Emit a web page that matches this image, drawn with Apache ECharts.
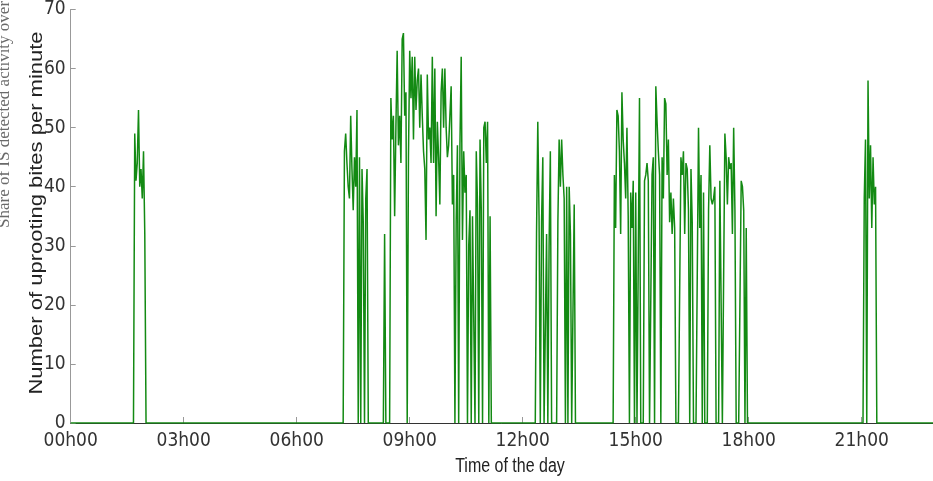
<!DOCTYPE html>
<html>
<head>
<meta charset="utf-8">
<script src="https://cdn.jsdelivr.net/npm/echarts@6/dist/echarts.min.js"></script>
<style>
html,body{margin:0;padding:0;background:#fff;}
#chart{width:933px;height:481px;}
</style>
</head>
<body>
<div id="chart"></div>
<script>
// Time axis in minutes after midnight; bursts sampled every 2 minutes.
const tickLabels = ['00h00','03h00','06h00','09h00','12h00','15h00','18h00','21h00'];
const xTitle = 'Time of the day';
const yTitle = 'Number of uprooting bites per minute';
const sideTitle = 'Share of IS detected activity over';

const stepMinutes = 2;
const nightStart = 100;
const nightBites = [0,49,41,44,53,40,43,38,46,32,0];
const earlyStart = 434;
const earlyBites = [0,46,49,44,40,38,52,43,36,45,40,53,0,45,0,43,34,0,38,43,0];
const lateStart = 498;
const lateBites = [0,32,0];
const morningStart = 508;
const morningBites = [0,
  55,48,52,35,50,63,47,52,44,65,
  66,52,56,0,45,63,55,62,48,62,
  53,58,60,50,59,52,46,43,31,59,
  48,50,44,62,44,60,35,51,45,37,
  56,60,50,60,50,45,47,52,57,37,
  42,0,34,47,0,47,62,31,46,39,
  42,0,30,36,0,35,35,0,46,37,
  0,48,36,0,50,51,44,51,0,35,
  0];
const noonStart = 740;
const noonBites = [0,32,51,35,0,34,45,0,0,32,0,30,46,0,0,0,0,0,34,48,40,48,42,38,0,40,0,40,32,0,0,37,0];
const afternoonStart = 864;
const afternoonBites = [
  0,42,33,53,52,46,32,56,48,44,
  38,50,35,0,39,33,41,0,39,0,
  0,55,0,0,0,41,42,44,41,0,
  0,42,45,0,57,51,46,42,0,45,
  38,55,54,42,48,34,39,32,38,33,
  0,0,0,0,45,42,46,32,44,43,
  36,0,43,34,0,0,0,0,50,33,
  42,0,39,0,0,0,36,47,38,37,
  38,40,0,0,0,41,41,0,0,49,
  45,37,45,43,44,32,50,36,0,0,
  0,0,41,40,36,0,33,0];
const eveningStart = 1262;
const eveningBites = [0,38,48,0,58,38,47,33,45,37,40,0];

const bursts = [
  [nightStart, nightBites], [earlyStart, earlyBites], [lateStart, lateBites],
  [morningStart, morningBites], [noonStart, noonBites], [afternoonStart, afternoonBites],
  [eveningStart, eveningBites]
];
const seriesData = [[0, 0]];
bursts.forEach(([start, vals]) => {
  vals.forEach((v, i) => seriesData.push([start + i * stepMinutes, v]));
});
seriesData.push([1440, 0]);

const labelFont = "'Liberation Sans Narrow', 'DejaVu Sans Condensed', 'Liberation Sans', sans-serif";

const chart = echarts.init(document.getElementById('chart'), null, {renderer: 'canvas'});
chart.setOption({
  animation: false,
  backgroundColor: '#ffffff',
  grid: {left: 70.7, right: 0, top: 3, bottom: 58, containLabel: false},
  xAxis: {
    type: 'value', min: 0, max: 1373.5, interval: 180,
    axisLine: {show: true, lineStyle: {color: '#333', width: 1}},
    axisTick: {show: true, inside: true, length: 6, lineStyle: {color: '#999'}},
    axisLabel: {
      color: '#333', fontSize: 19, fontFamily: labelFont, margin: 9,
      showMaxLabel: false,
      formatter: v => (v % 180 === 0 && v / 180 < tickLabels.length) ? tickLabels[v / 180] : ''
    },
    splitLine: {show: false}
  },
  yAxis: {
    type: 'value', min: 0, max: 70, interval: 10,
    axisLine: {show: true, lineStyle: {color: '#999', width: 1}},
    axisTick: {show: true, inside: true, length: 5, lineStyle: {color: '#999'}},
    axisLabel: {color: '#333', fontSize: 19, fontFamily: labelFont, margin: 5},
    splitLine: {show: false}
  },
  series: [{
    type: 'line', data: seriesData, showSymbol: false, symbol: 'none',
    clip: true,
    lineStyle: {color: '#138a13', width: 1.5},
    itemStyle: {color: '#138a13'}
  }],
  graphic: [
    {type: 'text', x: 37, y: 213, rotation: Math.PI / 2, scaleY: 0.8,
     style: {text: yTitle, fontSize: 22, fontFamily: "'Liberation Sans', Arial, sans-serif", fill: '#222',
             align: 'center', verticalAlign: 'middle', textAlign: 'center', textVerticalAlign: 'middle'}},
    {type: 'text', x: 510, y: 466, scaleX: 0.8,
     style: {text: xTitle, fontSize: 20, fontFamily: "'Liberation Sans', Arial, sans-serif", fill: '#222',
             align: 'center', verticalAlign: 'middle', textAlign: 'center', textVerticalAlign: 'middle'}},
    {type: 'text', x: 13, y: 228, rotation: Math.PI / 2,
     style: {text: sideTitle, fontSize: 17, fontFamily: "'Liberation Serif', 'Times New Roman', serif", fill: '#6a6a6a',
             align: 'left', verticalAlign: 'bottom', textAlign: 'left', textVerticalAlign: 'bottom'}}
  ]
});
</script>
</body>
</html>
